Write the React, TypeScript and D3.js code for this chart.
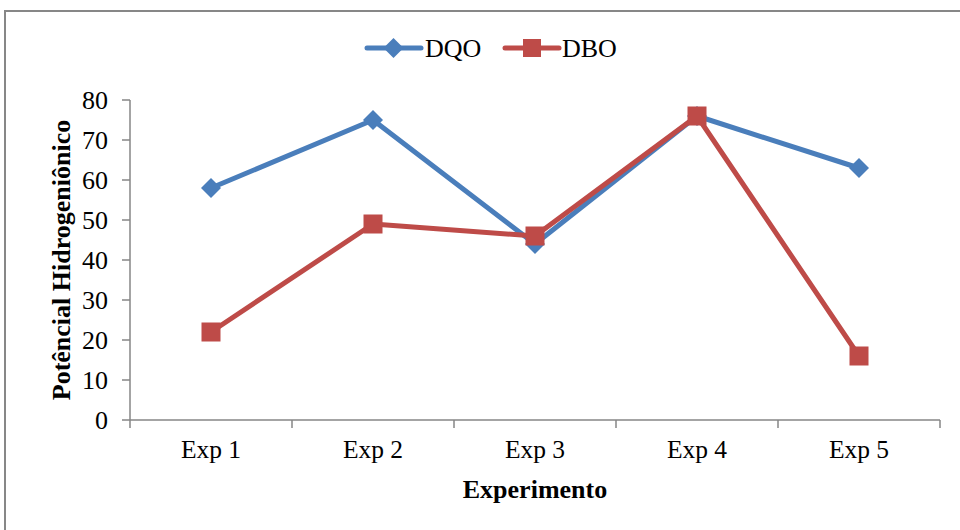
import React from "react";
import * as d3 from "d3";

const categories = ["Exp 1", "Exp 2", "Exp 3", "Exp 4", "Exp 5"];
const dqo = [58, 75, 44, 76, 63];
const dbo = [22, 49, 46, 76, 16];
const yTicks = [0, 10, 20, 30, 40, 50, 60, 70, 80];

const BLUE = "#4A7EBB";
const RED = "#BE4B48";
const AXIS = "#868686";
const FONT = "'Liberation Serif', 'Times New Roman', serif";

export default function App() {
  const x = d3.scaleBand<string>().domain(categories).range([130, 940]);
  const y = d3.scaleLinear().domain([0, 80]).range([420, 100]);
  const cx = (c: string) => (x(c) as number) + x.bandwidth() / 2;
  const line = d3
    .line<number>()
    .x((_, i) => cx(categories[i]))
    .y((d) => y(d));
  const diamond = (px: number, py: number, r: number) =>
    `M${px},${py - r}L${px + r},${py}L${px},${py + r}L${px - r},${py}Z`;
  const boundaries = [...categories.map((c) => x(c) as number), 940];

  return (
    <svg
      width={960}
      height={530}
      style={{ position: "absolute", left: 0, top: 0, background: "#fff" }}
      fontFamily={FONT}
    >
      <rect x={5} y={11} width={970} height={540} fill="#fff" stroke="#878787" strokeWidth={2} />

      {/* legend */}
      <g>
        <line x1={367} x2={421} y1={48} y2={48} stroke={BLUE} strokeWidth={5} strokeLinecap="round" />
        <path d={diamond(393.5, 48, 10)} fill={BLUE} />
        <text x={425} y={57} fontSize={26}>DQO</text>
        <line x1={505} x2={559} y1={48} y2={48} stroke={RED} strokeWidth={5} strokeLinecap="round" />
        <rect x={523} y={39} width={18} height={18} fill={RED} />
        <text x={562} y={57} fontSize={26}>DBO</text>
      </g>

      {/* axes */}
      <line x1={130} x2={130} y1={y(80)} y2={y(0)} stroke={AXIS} strokeWidth={1.5} />
      {yTicks.map((t) => (
        <g key={t}>
          <line x1={122} x2={130} y1={y(t)} y2={y(t)} stroke={AXIS} strokeWidth={1.5} />
          <text x={108} y={y(t) + 9} fontSize={26} textAnchor="end">
            {t}
          </text>
        </g>
      ))}
      <line x1={130} x2={940} y1={y(0)} y2={y(0)} stroke={AXIS} strokeWidth={1.5} />
      {boundaries.map((b, i) => (
        <line key={i} x1={b} x2={b} y1={420} y2={428} stroke={AXIS} strokeWidth={1.5} />
      ))}
      {categories.map((c) => (
        <text key={c} x={cx(c)} y={458} fontSize={25.5} textAnchor="middle">
          {c}
        </text>
      ))}
      <text x={535} y={498} fontSize={26} fontWeight="bold" textAnchor="middle">
        Experimento
      </text>
      <text
        transform="translate(70,260) rotate(-90)"
        fontSize={26}
        fontWeight="bold"
        textAnchor="middle"
      >
        Potêncial Hidrogeniônico
      </text>

      {/* series */}
      <path d={line(dqo) || ""} fill="none" stroke={BLUE} strokeWidth={5} strokeLinejoin="round" />
      {dqo.map((v, i) => (
        <path key={i} d={diamond(cx(categories[i]), y(v), 10)} fill={BLUE} />
      ))}
      <path d={line(dbo) || ""} fill="none" stroke={RED} strokeWidth={5} strokeLinejoin="round" />
      {dbo.map((v, i) => (
        <rect key={i} x={cx(categories[i]) - 9.5} y={y(v) - 9.5} width={19} height={19} fill={RED} />
      ))}
    </svg>
  );
}
